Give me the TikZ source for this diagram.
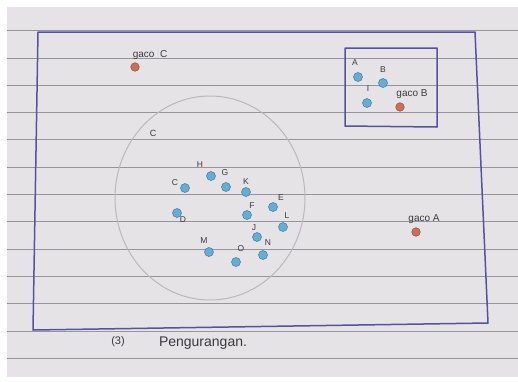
\documentclass[tikz,border=0pt]{standalone}
\usepackage{fontspec}
\setmainfont{Liberation Sans}
\definecolor{paper}{HTML}{E6E3E6}
\definecolor{rule}{HTML}{96959A}
\definecolor{pen}{HTML}{5552A2}
\definecolor{pencil}{HTML}{BAB8BC}
\definecolor{bluefill}{HTML}{68ACD0}
\definecolor{blueedge}{HTML}{4288B0}
\definecolor{redfill}{HTML}{C8705E}
\definecolor{rededge}{HTML}{A8503E}
\definecolor{ink}{HTML}{3A3A3E}
\begin{document}
\begin{tikzpicture}[x=1pt,y=-1pt,
  ruled/.style={draw=rule,line width=0.6pt},
  penline/.style={draw=pen,line width=1.5pt,line join=round},
  bdot/.style={circle,inner sep=0pt,minimum size=9pt,fill=bluefill,draw=blueedge,line width=0.6pt},
  rdot/.style={circle,inner sep=0pt,minimum size=8.5pt,fill=redfill,draw=rededge,line width=0.6pt},
  lbl/.style={inner sep=0pt,text=ink,font=\fontsize{8.5}{8.5}\selectfont},
  glbl/.style={inner sep=0pt,text=ink,font=\fontsize{10}{10}\selectfont},
  captiontext/.style={inner sep=0pt,text=ink,font=\fontsize{14}{14}\selectfont}]
\useasboundingbox (0,0) rectangle (518,381);
\fill[white] (0,0) rectangle (518,381);
\fill[paper] (7,7) rectangle (518,377);
\foreach \k in {0,...,12} \draw[ruled] (7,{30.5+27.3*\k}) -- (518,{30.5+27.3*\k});
% outer frame
\draw[penline] (38,32) -- (475,32) -- (488,323) -- (33,330) -- cycle;
% inner box
\draw[penline] (345,48) -- (437,48) -- (437,127) -- (345,126) -- cycle;
% pencil circle
\draw[pencil,line width=1pt] (210,198) ellipse [x radius=95,y radius=102];
\node[lbl,font=\fontsize{9}{9}\selectfont] (lCircle) at (153,133) {C};
% gaco C
\node[glbl] (lgC) at (150,55) {gaco\ \ C};
\node[rdot] (gC) at (135,67) {};
% inner box contents
\node[lbl] (lA) at (355,63) {A};
\node[bdot] (dA) at (358,77) {};
\node[lbl] (lB) at (383,70) {B};
\node[bdot] (dB) at (383,83) {};
\node[lbl] (lI) at (368,89) {I};
\node[bdot] (dI) at (367,103) {};
\node[glbl] (lgB) at (412,94) {gaco B};
\node[rdot] (gB) at (400,107) {};
% gaco A
\node[glbl] (lgA) at (424,219) {gaco A};
\node[rdot] (gA) at (416,232) {};
% cluster
\node[lbl] (lH) at (200,165) {H};
\node[bdot] (dH) at (211,176) {};
\node[lbl] (lG) at (225,173) {G};
\node[bdot] (dG) at (226,187) {};
\node[lbl] (lK) at (246,182) {K};
\node[bdot] (dK) at (246,192) {};
\node[lbl] (lC) at (175,183) {C};
\node[bdot] (dC) at (185,188) {};
\node[lbl] (lD) at (183,220) {D};
\node[bdot] (dD) at (177,213) {};
\node[lbl] (lE) at (281,198) {E};
\node[bdot] (dE) at (273,207) {};
\node[lbl] (lF) at (252,206) {F};
\node[bdot] (dF) at (247,215) {};
\node[lbl] (lL) at (287,216) {L};
\node[bdot] (dL) at (283,227) {};
\node[lbl] (lJ) at (254,228) {J};
\node[bdot] (dJ) at (257,237) {};
\node[lbl] (lN) at (268,243) {N};
\node[bdot] (dN) at (263,255) {};
\node[lbl] (lM) at (204,241) {M};
\node[bdot] (dM) at (209,252) {};
\node[lbl] (lO) at (241,249) {O};
\node[bdot] (dO) at (236,262) {};
% caption
\node[glbl,font=\fontsize{11}{11}\selectfont] (c3) at (118,342) {(3)};
\node[captiontext] (captxt) at (203,343) {Pengurangan.};
\end{tikzpicture}
\end{document}
